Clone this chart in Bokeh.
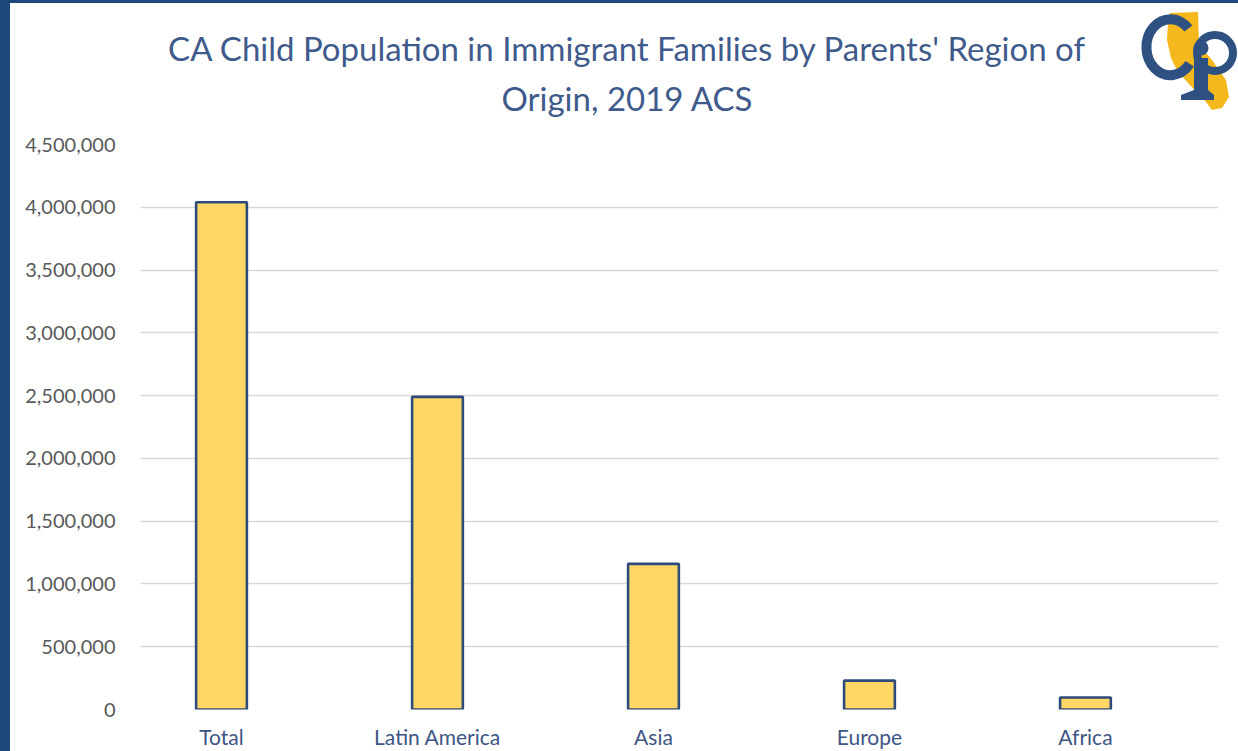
from bokeh.plotting import figure
from bokeh.layouts import row, column
from bokeh.models import Range1d, FixedTicker, NumeralTickFormatter, Div
from bokeh.core.properties import value
from bokeh.embed import file_html
from bokeh.resources import INLINE

# ---- data ----
categories = ["Total", "Latin America", "Asia", "Europe", "Africa"]
children = [4040000, 2490000, 1160000, 230000, 95000]
y_ticks = [0, 500000, 1000000, 1500000, 2000000, 2500000, 3000000, 3500000, 4000000, 4500000]
title_lines = ["CA Child Population in Immigrant Families by Parents' Region of", "Origin, 2019 ACS"]

NAVY = "#1D4A7E"
FONT = "Lato"
LOGO = "#2E5182"
GOLD = "#F5B81C"

positions = [i + 1 for i in range(len(categories))]

# ---- frame decorations (navy strip on the left, rule on top) ----
strip = Div(text="", width=10, height=751, margin=(0, 0, 0, 0),
            styles={"background-color": NAVY})
top_rule = Div(text="", width=1228, height=3, margin=(0, 0, 0, 0),
               styles={"background-color": NAVY})

# ---- logo (decorative, inline svg) ----
ca_pts = [(32, 10), (60, 9), (61, 42), (74, 57), (88, 77), (91, 94), (84, 105), (74, 107),
          (65, 95), (52, 82), (40, 69), (33, 55), (29, 37), (30, 19)]
pts = " ".join(f"{a},{b}" for a, b in ca_pts)
logo_svg = f"""
<svg width="100" height="127" xmlns="http://www.w3.org/2000/svg" style="display:block">
  <polygon points="{pts}" fill="{GOLD}"/>
  <path d="M 50.4 25.6 A 24 28 0 1 0 51.7 60.8" fill="none" stroke="{LOGO}" stroke-width="10"/>
  <circle cx="77" cy="50" r="18" fill="none" stroke="{LOGO}" stroke-width="8"/>
  <rect x="56" y="55" width="14" height="38" fill="{LOGO}"/>
  <polygon points="43,97 76,97 76,92 70,87 56,87 43,92" fill="{LOGO}"/>
  <circle cx="63" cy="45" r="7.5" fill="{LOGO}"/>
</svg>"""
logo = Div(text=logo_svg, width=100, height=127, margin=(0, 0, 0, 0))

# ---- header with the title ----
HH = 127
header = figure(width=1128, height=HH, toolbar_location=None, output_backend="svg",
                x_range=Range1d(140, 1118), y_range=Range1d(0, HH),
                min_border_left=130, min_border_right=20, min_border_top=0, min_border_bottom=0,
                x_axis_type=None, y_axis_type=None)
header.outline_line_color = None
header.grid.visible = False
header.background_fill_color = "white"
header.border_fill_color = "white"
header.text(x=[627, 627], y=[HH - 44, HH - 94], text=title_lines,
            text_align="center", text_baseline="middle",
            text_font=value(FONT), text_font_size="33px", text_color="#3F5B8C")

# ---- main chart ----
p = figure(width=1228, height=621, toolbar_location=None, output_backend="svg",
           x_range=Range1d(0.625, 5.616), y_range=Range1d(0, 4500000),
           min_border_left=130, min_border_right=20, min_border_top=14, min_border_bottom=40)
p.outline_line_color = None
p.background_fill_color = "white"
p.border_fill_color = "white"

p.vbar(x=positions, top=children, width=0.235, bottom=0,
       fill_color="#FED766", line_color="#2E4A7A", line_width=2.6)

p.xgrid.visible = False
p.ygrid.grid_line_color = "#D9D9D9"
p.ygrid.grid_line_width = 1.3

p.yaxis.ticker = FixedTicker(ticks=y_ticks)
p.yaxis.formatter = NumeralTickFormatter(format="0,0")
p.yaxis.axis_line_color = None
p.yaxis.major_tick_line_color = None
p.yaxis.minor_tick_line_color = None
p.yaxis.major_label_standoff = 19
p.yaxis.major_label_text_font = FONT
p.yaxis.major_label_text_font_size = "20px"
p.yaxis.major_label_text_color = "#595959"

p.xaxis.ticker = FixedTicker(ticks=positions)
p.xaxis.major_label_overrides = {pos: cat for pos, cat in zip(positions, categories)}
p.xaxis.axis_line_color = None
p.xaxis.major_tick_line_color = None
p.xaxis.minor_tick_line_color = None
p.xaxis.major_label_standoff = 8
p.xaxis.major_label_text_font = FONT
p.xaxis.major_label_text_font_size = "21px"
p.xaxis.major_label_text_color = "#3E5584"

layout = row(strip, column(top_rule, row(header, logo, spacing=0), p, spacing=0), spacing=0)

open("out.html", "w").write(file_html(layout, INLINE))
